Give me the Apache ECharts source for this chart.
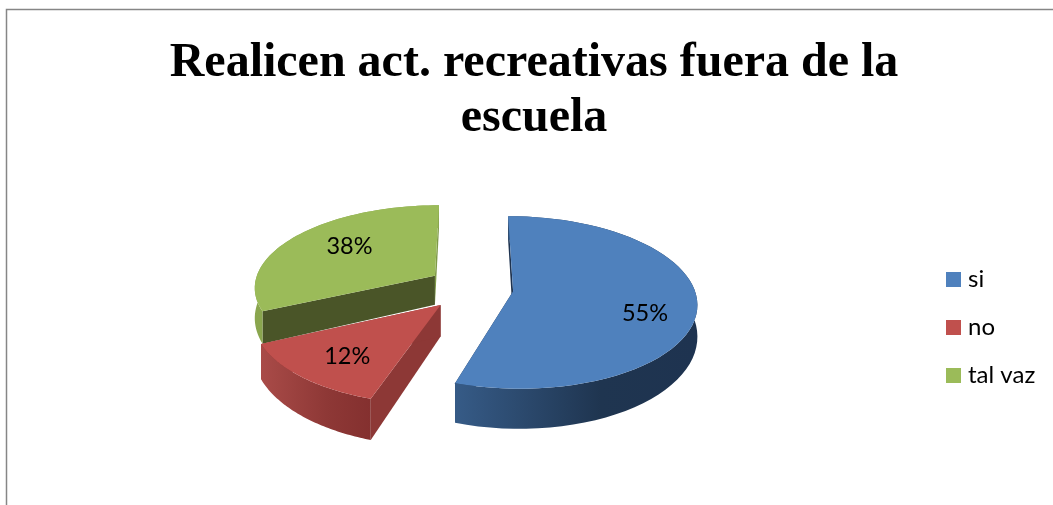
<!DOCTYPE html>
<html lang="es">

<head>
    <meta charset="UTF-8">
    <title>Realicen act. recreativas</title>
    <script src="https://cdn.jsdelivr.net/npm/echarts@6/dist/echarts.min.js"></script>
    <style>
        * {
            margin: 0;
            padding: 0;
        }
        body {
            background-color: #fff;
        }
        #box1 {
            width: 1053px;
            height: 505px;
        }
    </style>
</head>

<body>
    <div id="box1"></div>
    <script>
        const categories = ['si', 'no', 'tal vaz'];
        // size of each slice
        const sliceShares = [55, 13, 32];
        // the labels as printed on the picture
        const sliceLabels = ['55%', '12%', '38%'];

        // look of the slices
        const palette = [
            { top: '#4f81bd', wall: ['#365b87', '#1f3550', '#1e3350'], startCut: '#1e3350', endCut: '#1e3350', z: 3, radiusY: 84, shift: [2, 1], nudge: [0, 13] },
            { top: '#c0504d', wall: ['#a94b48', '#8e3836', '#84302f'], startCut: '#8d3836', endCut: '#8d3836', z: 4, radiusY: 82, shift: [2, 3], nudge: [4, 1] },
            { top: '#9bbb59', wall: ['#8aa64e', '#8aa64e', '#8aa64e'], startCut: '#4a5528', endCut: '#7f9a48', z: 2, radiusY: 82, shift: [3, -1], nudge: [16, 0] }
        ];

        // pie projection: centre, radius, perspective, explode and thickness
        const centerX = 468, centerY = 287, radiusX = 181;
        const perspective = 0.13, explode = 0.24, thickness = 30;

        function project(x, y, radiusY, down) {
            let s = 1 / (1 - perspective * y);
            return [
                centerX + x * radiusX * s,
                centerY + y * radiusY * s + (down ? thickness * s * s : 0)
            ];
        }

        function sliceItem(index, share, total, before) {
            let look = palette[index];
            let start = before / total * Math.PI * 2;
            let end = (before + share) / total * Math.PI * 2;
            let mid = (start + end) / 2;
            let ox = Math.sin(mid) * explode;
            let oy = -Math.cos(mid) * explode;

            function rim(angle, down, r) {
                return project(ox + Math.sin(angle) * r, oy - Math.cos(angle) * r, look.radiusY, down);
            }

            let topArc = [], lowArc = [];
            for (let i = 0; i <= 60; i++) {
                let a = start + (end - start) * i / 60;
                topArc.push(rim(a, false, 1));
                lowArc.push(rim(a, true, 1));
            }
            let apexTop = project(ox, oy, look.radiusY, false);
            let apexLow = project(ox, oy, look.radiusY, true);

            function wallColor() {
                return new echarts.graphic.LinearGradient(0, 0, 1, 0, [
                    { offset: 0, color: look.wall[0] },
                    { offset: 0.6, color: look.wall[1] },
                    { offset: 1, color: look.wall[2] }
                ]);
            }

            let labelPos = rim(mid, false, 0.72);
            return {
                type: 'group',
                x: look.shift[0],
                y: look.shift[1],
                children: [
                    {
                        type: 'polygon',
                        shape: { points: [apexTop, topArc[0], lowArc[0], apexLow] },
                        style: { fill: look.startCut }
                    },
                    {
                        type: 'polygon',
                        shape: { points: [apexTop, topArc[60], lowArc[60], apexLow] },
                        style: { fill: look.endCut }
                    },
                    {
                        type: 'polygon',
                        shape: { points: topArc.concat(lowArc.slice().reverse()) },
                        style: { fill: wallColor() }
                    },
                    {
                        type: 'polygon',
                        shape: { points: [apexTop].concat(topArc) },
                        style: { fill: look.top }
                    },
                    {
                        type: 'text',
                        z2: 50,
                        style: {
                            x: labelPos[0] + look.nudge[0],
                            y: labelPos[1] + look.nudge[1],
                            text: sliceLabels[index],
                            font: '23.5px Lato',
                            fill: '#000',
                            align: 'center',
                            verticalAlign: 'middle'
                        }
                    }
                ]
            };
        }

        let total = sliceShares.reduce((a, b) => a + b, 0);
        let seriesList = [];
        let before = 0;
        for (let i = 0; i < categories.length; i++) {
            let startValue = before;
            seriesList.push({
                name: categories[i],
                type: 'custom',
                coordinateSystem: 'none',
                z: palette[i].z,
                itemStyle: { color: palette[i].top },
                data: [[sliceShares[i]]],
                renderItem: function (params, api) {
                    return sliceItem(i, api.value(0), total, startValue);
                }
            });
            before += sliceShares[i];
        }

        let option = {
            animation: false,
            backgroundColor: '#fff',
            title: {
                text: 'Realicen act. recreativas fuera de la\nescuela',
                left: 529,
                top: 31,
                textAlign: 'center',
                textStyle: {
                    fontFamily: 'Liberation Serif',
                    fontWeight: 'bold',
                    fontSize: 48,
                    lineHeight: 55,
                    color: '#000'
                }
            },
            legend: {
                data: categories,
                orient: 'vertical',
                left: 941,
                top: 261,
                icon: 'rect',
                itemWidth: 15,
                itemHeight: 15,
                itemGap: 21,
                textStyle: {
                    fontFamily: 'Lato',
                    fontSize: 24,
                    lineHeight: 27,
                    color: '#000',
                    padding: [0, 0, 0, 2]
                }
            },
            graphic: [{
                type: 'polyline',
                shape: { points: [[6.5, 505], [6.5, 9.5], [1053, 9.5]] },
                style: { stroke: '#868686', lineWidth: 1.5, fill: null }
            }],
            series: seriesList
        };
        echarts.init(document.querySelector('#box1')).setOption(option);
    </script>
</body>

</html>
